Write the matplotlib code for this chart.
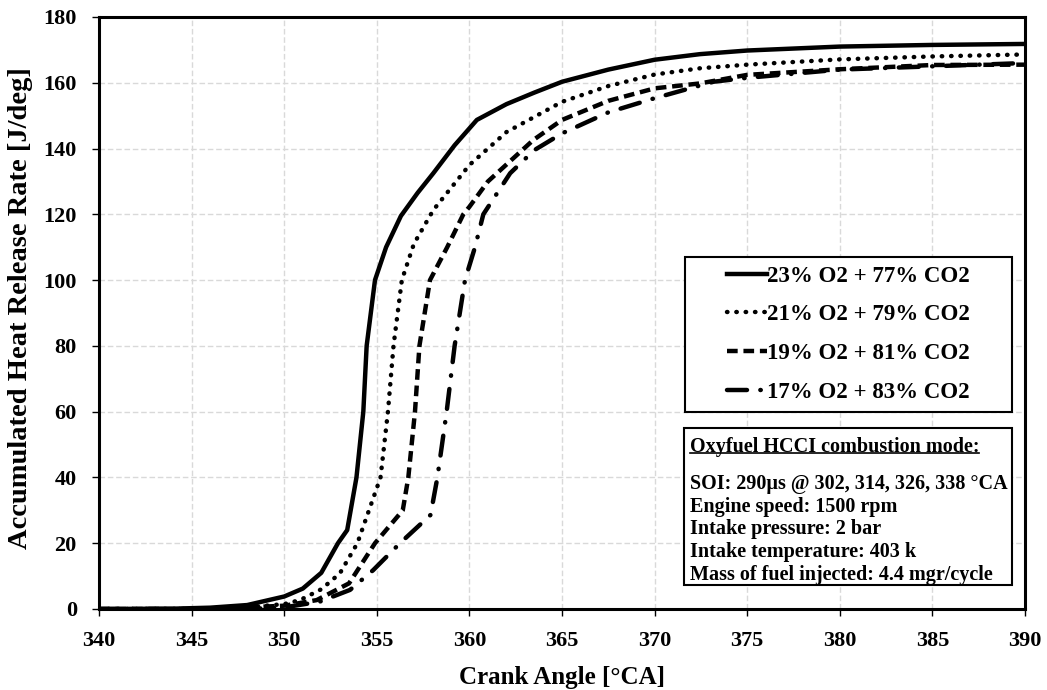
import matplotlib
matplotlib.use('Agg')
import matplotlib.pyplot as plt
from matplotlib.patches import Rectangle
from matplotlib.lines import Line2D

plt.rcParams['font.family'] = ['Liberation Serif', 'DejaVu Serif']
plt.rcParams['font.weight'] = 'bold'

# data
x_23 = [340, 344, 346, 348, 350, 351, 352, 352.9, 353.4, 353.9, 354.27, 354.45, 354.9, 355.5,
        356.3, 357.2, 358.05, 359.2, 360.4, 362, 363.5, 365, 367.5, 370, 372.45, 375, 380, 385, 390]
y_23 = [0, 0.1, 0.4, 1.2, 3.8, 6.2, 11, 20, 24, 40, 60, 80, 100, 110,
        119.5, 126.5, 132.5, 141, 148.7, 153.5, 157, 160.3, 164, 167, 168.7, 169.8, 171, 171.5, 171.8]

x_21 = [340, 345, 348, 350, 350.85, 352, 353, 353.95, 355.2, 355.6, 355.9, 356.35, 357, 358.05,
        360, 362, 365, 367.5, 370, 372.45, 375, 380, 385, 390]
y_21 = [0, 0, 0.5, 1.5, 2.7, 6, 10.8, 20, 40, 60, 80, 100, 111, 121.3,
        135, 145, 154.2, 159, 162.5, 164.4, 165.5, 167.1, 168, 168.6]

x_19 = [340, 346, 350, 351.75, 353.5, 354.9, 356.4, 356.7, 357.06, 357.3, 357.87, 358.8, 359.67,
        360, 361, 363.45, 365, 367.5, 370, 372.45, 375, 380, 385, 390]
y_19 = [0, 0, 1, 2.7, 7.8, 20, 30, 40, 60, 80, 100, 110, 120,
        122.3, 130, 142.6, 148.7, 154.5, 158.3, 159.8, 162.4, 164.1, 165.4, 165.5]

x_17 = [340, 348, 350, 351.9, 353.55, 354.8, 356.25, 357.9, 358.27, 358.77, 359.2, 359.76, 360.3,
        360.75, 362.2, 363.5, 365, 367.5, 370, 373.17, 375, 380, 385, 390]
y_17 = [0, 0, 0.5, 2.2, 5.8, 11.8, 20, 28.6, 40, 60, 80, 100, 110,
        120, 132.5, 139.5, 144.6, 151, 155.3, 160.3, 161.5, 164, 165, 166]

labels = ['23% O2 + 77% CO2', '21% O2 + 79% CO2', '19% O2 + 81% CO2', '17% O2 + 83% CO2']
info_title = 'Oxyfuel HCCI combustion mode:'
info_lines = ['SOI: 290\u00b5s @ 302, 314, 326, 338 \u00b0CA',
              'Engine speed: 1500 rpm',
              'Intake pressure: 2 bar',
              'Intake temperature: 403 k',
              'Mass of fuel injected: 4.4 mgr/cycle']

fig = plt.figure(figsize=(10.47, 6.9), dpi=100)
ax = fig.add_axes([0.0946, 0.1174, 0.8844, 0.858])

ax.plot(x_23, y_23, color='black', lw=3.2, linestyle='-', label=labels[0])
ax.plot(x_21, y_21, color='black', lw=3.2, linestyle=(0, (0.1, 2.0)), dash_capstyle='round', label=labels[1])
ax.plot(x_19, y_19, color='black', lw=3.2, linestyle=(0, (2.4, 1.3)), label=labels[2])
ax.plot(x_17, y_17, color='black', lw=3.2, linestyle=(0, (4.5, 3.0, 0.1, 3.0)), dash_capstyle='round', label=labels[3])

ax.set_xlim(340, 390)
ax.set_ylim(0, 180)
ax.set_xticks(range(340, 391, 5))
ax.set_yticks(range(0, 181, 20))
ax.tick_params(axis='both', labelsize=16, direction='out', length=5, width=1)
ax.tick_params(axis='x', pad=11)
ax.tick_params(axis='y', pad=11)
for lab in ax.get_xticklabels() + ax.get_yticklabels():
    lab.set_fontweight('bold')
ax.grid(True, color='#d9d9d9', linestyle=(0, (4, 2)), lw=1)
ax.set_axisbelow(True)
for sp in ax.spines.values():
    sp.set_linewidth(2.2)
    sp.set_color('black')

ax.set_xlabel('Crank Angle [\u00b0CA]', fontsize=18, fontweight='bold', labelpad=11)
ax.set_ylabel('Accumulated Heat Release Rate [J/deg]', fontsize=20.5, fontweight='bold')
ax.yaxis.set_label_coords(-0.071, 0.508)

# legend with its own frame
ax.add_patch(Rectangle((0.633, 0.333), 0.353, 0.262, transform=ax.transAxes,
                       facecolor='white', edgecolor='black', lw=1.5, zorder=5))
leg = ax.legend(loc='center', bbox_to_anchor=(0.8095, 0.464), fontsize=16.5,
                handlelength=1.75, handletextpad=0.0, labelspacing=0.77,
                frameon=False, borderpad=0.2)
leg.set_zorder(6)
for t in leg.get_texts():
    t.set_fontweight('bold')

# info box
ax.add_patch(Rectangle((0.6317, 0.0405), 0.3539, 0.2652, transform=ax.transAxes,
                       facecolor='white', edgecolor='black', lw=1.5, zorder=5))
t_title = ax.text(0.638, 0.274, info_title, transform=ax.transAxes, fontsize=14.5,
                  fontweight='bold', va='center', ha='left', zorder=6)
for i, line in enumerate(info_lines):
    ax.text(0.638, 0.2115 - i * 0.0385, line, transform=ax.transAxes, fontsize=14.5,
            fontweight='bold', va='center', ha='left', zorder=6)

fig.canvas.draw()
bb = t_title.get_window_extent().transformed(ax.transAxes.inverted())
ax.add_line(Line2D([bb.x0, bb.x1], [bb.y0 + 0.006, bb.y0 + 0.006], transform=ax.transAxes,
                   color='black', lw=1.2, zorder=6))

fig.savefig('out.png', dpi=100)
